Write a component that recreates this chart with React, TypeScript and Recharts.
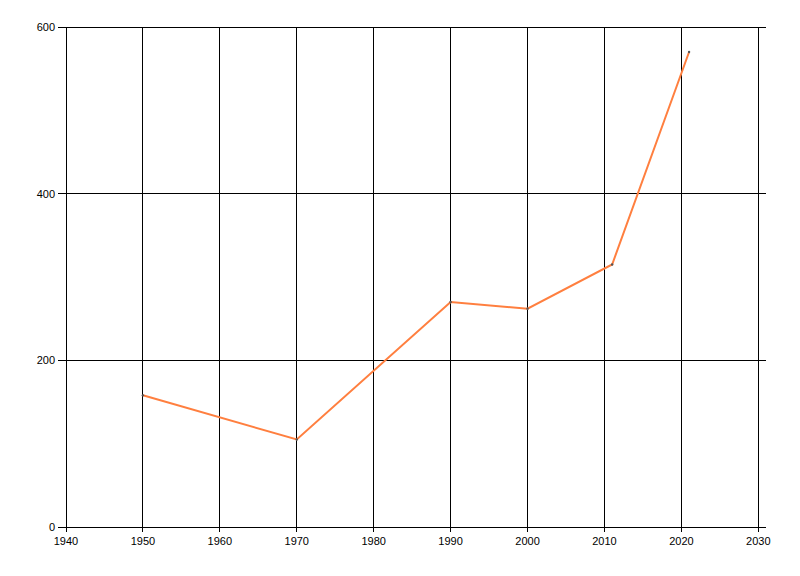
import React from "react";
import { LineChart, Line, XAxis, YAxis, CartesianGrid } from "recharts";

const years = [1950, 1970, 1990, 2000, 2011, 2021];
const values = [158, 105, 270, 262, 315, 570];
const xTicks = [1940, 1950, 1960, 1970, 1980, 1990, 2000, 2010, 2020, 2030];
const yTicks = [0, 200, 400, 600];

const data = years.map((y, i) => ({ year: y, value: values[i] }));

const font = { fontFamily: "'Liberation Sans', Arial, sans-serif", fontSize: 11, fill: "#000" };

export default function App() {
  return (
    <div style={{ position: "fixed", left: 0, top: 0, width: 800, height: 576, background: "#fff" }}>
      <LineChart
        width={800}
        height={576}
        data={data}
        margin={{ top: 27, right: 34, bottom: 0, left: 0 }}
      >
        <CartesianGrid
          stroke="#000"
          strokeWidth={1}
          shapeRendering="crispEdges"
          verticalValues={xTicks}
          horizontalValues={yTicks}
        />
        <XAxis
          dataKey="year"
          type="number"
          domain={[1940, 2031]}
          ticks={xTicks}
          allowDataOverflow
          height={49}
          tickSize={5}
          tickMargin={5}
          stroke="#000"
          tick={font}
          tickLine={{ stroke: "#000", shapeRendering: "crispEdges" }}
          axisLine={{ stroke: "#000", shapeRendering: "crispEdges" }}
        />
        <YAxis
          type="number"
          domain={[0, 600]}
          ticks={yTicks}
          width={66}
          tickSize={8}
          tickMargin={3}
          tick={font}
          tickLine={{ stroke: "#000", shapeRendering: "crispEdges" }}
          axisLine={{ stroke: "#000", shapeRendering: "crispEdges" }}
        />
        <Line
          type="linear"
          dataKey="value"
          stroke="#ff7f3f"
          strokeWidth={2}
          dot={{ r: 1.2, fill: "#555", stroke: "none" }}
          activeDot={false}
          isAnimationActive={false}
        />
      </LineChart>
    </div>
  );
}
